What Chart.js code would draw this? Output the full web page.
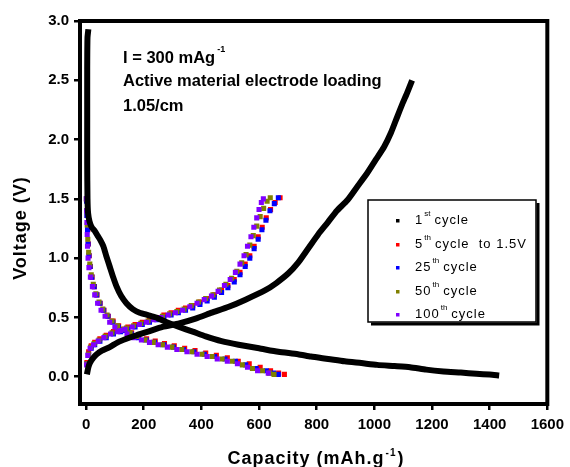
<!DOCTYPE html>
<html><head><meta charset="utf-8">
<script src="https://cdn.jsdelivr.net/npm/chart.js@4"></script>
<style>html,body{margin:0;padding:0;background:#fff}canvas{display:block}</style>
</head><body>
<canvas id="c" width="570" height="467"></canvas>
<script>
// ---- data (capacity mAh/g, voltage V) ----
const xTicks = [0, 200, 400, 600, 800, 1000, 1200, 1400, 1600];
const yTicks = [0, 0.5, 1.0, 1.5, 2.0, 2.5, 3.0];

const cycle1Discharge = [[8,2.93],[5,2.86],[4,2.6],[4,2.2],[4,1.8],[5,1.5],[7,1.38],[12,1.31],[20,1.26],[30,1.23],[40,1.19],[50,1.15],[60,1.10],[70,1.02],[82,0.93],[94,0.84],[106,0.76],[122,0.68],[140,0.62],[162,0.57],[186,0.54],[215,0.52],[243,0.50],[280,0.46],[323,0.42],[370,0.38],[415,0.34],[470,0.30],[529,0.27],[600,0.24],[667,0.21],[735,0.19],[780,0.17],[840,0.15],[897,0.13],[955,0.115],[1010,0.10],[1070,0.09],[1124,0.08],[1180,0.06],[1240,0.045],[1300,0.035],[1354,0.025],[1400,0.018],[1433,0.01]];
const cycle1Charge = [[3,0.02],[8,0.08],[14,0.12],[25,0.16],[37,0.19],[55,0.22],[82,0.25],[110,0.29],[140,0.32],[175,0.35],[215,0.38],[265,0.42],[323,0.45],[380,0.49],[436,0.54],[495,0.59],[553,0.65],[622,0.73],[660,0.79],[701,0.87],[735,0.96],[770,1.08],[805,1.20],[838,1.30],[870,1.40],[907,1.49],[940,1.60],[976,1.72],[1005,1.83],[1034,1.94],[1058,2.06],[1079,2.19],[1097,2.30],[1113,2.39],[1131,2.50]];

const cycle5Discharge = [[2,1.49],[4,1.36],[6,1.24],[8,1.12],[11,1.02],[15,0.93],[21,0.84],[29,0.76],[38,0.69],[49,0.62],[62,0.56],[77,0.51],[94,0.47],[113,0.43],[135,0.40],[158,0.37],[183,0.34],[210,0.32],[240,0.30],[272,0.28],[306,0.26],[342,0.24],[378,0.22],[415,0.20],[452,0.18],[490,0.16],[528,0.13],[566,0.11],[604,0.08],[640,0.05],[668,0.03],[688,0.02]];
const cycle5Charge = [[3,0.12],[9,0.21],[18,0.26],[30,0.29],[48,0.32],[70,0.35],[95,0.38],[120,0.40],[145,0.42],[170,0.44],[195,0.46],[220,0.48],[245,0.50],[270,0.52],[295,0.54],[320,0.56],[345,0.58],[370,0.60],[395,0.63],[420,0.66],[445,0.69],[470,0.73],[492,0.77],[514,0.82],[534,0.88],[552,0.95],[568,1.02],[583,1.10],[597,1.18],[611,1.26],[625,1.34],[640,1.41],[656,1.47],[673,1.51]];

const cycle25Discharge = [[2,1.48],[3,1.36],[5,1.24],[7,1.12],[10,1.02],[14,0.93],[20,0.84],[28,0.76],[37,0.69],[48,0.62],[61,0.56],[76,0.51],[93,0.46],[112,0.42],[134,0.39],[157,0.36],[182,0.33],[209,0.31],[238,0.29],[270,0.27],[303,0.25],[338,0.23],[374,0.21],[410,0.19],[446,0.17],[482,0.15],[518,0.13],[554,0.10],[590,0.07],[625,0.05],[650,0.03],[667,0.02]];
const cycle25Charge = [[3,0.11],[9,0.19],[18,0.24],[30,0.27],[48,0.30],[70,0.33],[95,0.36],[120,0.38],[145,0.40],[170,0.42],[195,0.44],[220,0.46],[245,0.48],[270,0.50],[295,0.52],[320,0.54],[345,0.56],[370,0.58],[395,0.61],[420,0.64],[445,0.67],[470,0.71],[492,0.75],[514,0.80],[534,0.86],[552,0.93],[568,1.00],[583,1.08],[597,1.16],[610,1.24],[624,1.32],[638,1.40],[653,1.46],[667,1.51]];

const cycle50Discharge = [[1,1.50],[2,1.40],[4,1.28],[6,1.16],[9,1.05],[13,0.95],[18,0.86],[25,0.78],[34,0.70],[45,0.63],[58,0.57],[73,0.52],[90,0.47],[109,0.43],[130,0.40],[153,0.37],[178,0.34],[205,0.31],[234,0.29],[265,0.27],[298,0.25],[332,0.23],[367,0.21],[402,0.19],[437,0.17],[472,0.15],[507,0.13],[542,0.10],[577,0.07],[612,0.05],[636,0.03],[652,0.02]];
const cycle50Charge = [[3,0.11],[8,0.19],[16,0.25],[28,0.28],[45,0.31],[66,0.34],[90,0.37],[115,0.39],[140,0.41],[165,0.43],[190,0.45],[215,0.47],[240,0.49],[265,0.51],[290,0.53],[315,0.55],[340,0.57],[365,0.60],[390,0.63],[415,0.66],[440,0.69],[463,0.73],[485,0.78],[505,0.83],[523,0.89],[540,0.96],[555,1.03],[568,1.11],[580,1.19],[592,1.27],[604,1.35],[616,1.42],[628,1.48],[639,1.51]];

const cycle100Discharge = [[1,1.50],[2,1.40],[3,1.30],[4,1.20],[5,1.10],[7,1.00],[10,0.92],[15,0.84],[22,0.76],[30,0.69],[40,0.62],[52,0.56],[66,0.51],[82,0.46],[100,0.42],[120,0.39],[142,0.36],[166,0.33],[192,0.31],[220,0.29],[250,0.27],[282,0.25],[315,0.23],[350,0.21],[385,0.19],[420,0.17],[455,0.15],[490,0.13],[525,0.11],[560,0.08],[595,0.05],[632,0.03]];
const cycle100Charge = [[2,0.10],[6,0.18],[14,0.24],[26,0.27],[42,0.30],[62,0.33],[85,0.36],[110,0.38],[135,0.40],[160,0.42],[185,0.44],[210,0.46],[235,0.48],[260,0.50],[285,0.52],[310,0.54],[335,0.56],[360,0.59],[385,0.62],[410,0.65],[435,0.68],[458,0.72],[480,0.77],[500,0.82],[518,0.88],[534,0.95],[548,1.02],[560,1.10],[572,1.18],[582,1.26],[592,1.34],[600,1.41],[608,1.47],[615,1.50]];

const legendMain = ['1', '5', '25', '50', '100'];
const legendSup = ['st', 'th', 'th', 'th', 'th'];
const legendTail = ['cycle', 'cycle  to 1.5V', 'cycle', 'cycle', 'cycle'];
const legendColors = ['#000000', '#ff0000', '#0000ff', '#808000', '#8000ff'];
const noteLines = ['I = 300 mAg', 'Active material electrode loading', '1.05/cm'];
const noteSup = '-1';
const xTitle = 'Capacity (mAh.g';
const xTitleSup = '-1';
const yTitle = 'Voltage (V)';

const toPts = a => a.map(p => ({x: p[0], y: p[1]}));
const FONT = '"Liberation Sans", Arial, sans-serif';

function scatterSet(dis, chg, color) {
  return {
    data: toPts(dis).concat(toPts(chg)),
    showLine: false,
    pointStyle: 'rect',
    pointRadius: 3.6,
    pointBorderWidth: 0,
    pointBackgroundColor: color,
    borderColor: color,
    backgroundColor: color
  };
}
function lineSet(d) {
  return {
    data: toPts(d), showLine: true, borderColor: '#000', borderWidth: 6,
    pointRadius: 0, tension: 0.2, fill: false, borderJoinStyle: 'round'
  };
}

const decor = {
  id: 'decor',
  beforeDatasetsDraw(chart) {
    const {ctx, chartArea: a} = chart;
    ctx.save();
    ctx.strokeStyle = '#000';
    ctx.lineWidth = 4;
    ctx.strokeRect(a.left, a.top, a.right - a.left, a.bottom - a.top);
    ctx.restore();
  },
  afterDraw(chart) {
    const {ctx} = chart;
    ctx.save();
    ctx.fillStyle = '#000';
    // annotation
    ctx.font = 'bold 16.5px ' + FONT;
    ctx.textBaseline = 'middle';
    ctx.textAlign = 'left';
    const ny = [58, 81, 106];
    noteLines.forEach((t, i) => ctx.fillText(t, 123, ny[i]));
    const w0 = ctx.measureText(noteLines[0]).width;
    ctx.font = 'bold 9px ' + FONT;
    ctx.fillText(noteSup, 123 + w0 + 2, 50);

    // legend box
    const L = 368, T = 200, R = 536, B = 322;
    ctx.lineWidth = 1.5;
    ctx.strokeRect(L, T, R - L, B - T);
    ctx.lineWidth = 3;
    ctx.beginPath();
    ctx.moveTo(L + 3, B + 2); ctx.lineTo(R + 2, B + 2); ctx.lineTo(R + 2, T + 3);
    ctx.stroke();
    const rows = [220, 244, 267, 291, 314];
    legendMain.forEach((m, i) => {
      ctx.fillStyle = legendColors[i];
      ctx.fillRect(396, rows[i] - 1, 3.5, 3.5);
      ctx.fillStyle = '#000';
      ctx.font = '13px ' + FONT;
      ctx.letterSpacing = '1px';
      ctx.textBaseline = 'middle';
      ctx.fillText(m, 415, rows[i]);
      const mw = ctx.measureText(m).width;
      ctx.font = '8px ' + FONT;
      ctx.letterSpacing = '0px';
      ctx.fillText(legendSup[i], 415 + mw + 1, rows[i] - 6);
      const sw = ctx.measureText(legendSup[i]).width;
      ctx.font = '13px ' + FONT;
      ctx.letterSpacing = '1px';
      ctx.fillText(legendTail[i], 415 + mw + sw + 5, rows[i]);
    });
    ctx.letterSpacing = '0px';

    // axis titles
    ctx.fillStyle = '#000';
    ctx.font = 'bold 18px ' + FONT;
    ctx.letterSpacing = '1px';
    const tw = ctx.measureText(xTitle).width;
    ctx.font = 'bold 10px ' + FONT;
    const sw2 = ctx.measureText(xTitleSup).width;
    ctx.font = 'bold 18px ' + FONT;
    const cw = ctx.measureText(')').width;
    const total = tw + sw2 + cw + 2;
    let x0 = 316 - total / 2;
    ctx.textAlign = 'left';
    ctx.textBaseline = 'middle';
    ctx.fillText(xTitle, x0, 459);
    ctx.font = 'bold 10px ' + FONT;
    ctx.fillText(xTitleSup, x0 + tw + 1, 453);
    ctx.font = 'bold 18px ' + FONT;
    ctx.fillText(')', x0 + tw + sw2 + 2, 459);

    ctx.translate(21, 228);
    ctx.rotate(-Math.PI / 2);
    ctx.textAlign = 'center';
    ctx.fillText(yTitle, 0, 0);
    ctx.restore();
  }
};

const tickFont = {family: FONT, size: 15, weight: 'bold'};
new Chart(document.getElementById('c'), {
  type: 'scatter',
  data: {
    datasets: [
      lineSet(cycle1Discharge),
      lineSet(cycle1Charge),
      scatterSet(cycle100Discharge, cycle100Charge, legendColors[4]),
      scatterSet(cycle50Discharge, cycle50Charge, legendColors[3]),
      scatterSet(cycle25Discharge, cycle25Charge, legendColors[2]),
      scatterSet(cycle5Discharge, cycle5Charge, legendColors[1])
    ]
  },
  options: {
    responsive: false,
    devicePixelRatio: 1,
    animation: false,
    layout: {padding: {left: 0, top: 21, right: 18, bottom: 0}},
    plugins: {legend: {display: false}, tooltip: {enabled: false}},
    scales: {
      x: {
        type: 'linear', min: -21, max: 1600,
        afterBuildTicks: s => { s.ticks = xTicks.map(v => ({value: v})); },
        afterFit: s => { s.height = 63; },
        ticks: {font: tickFont, color: '#000', padding: 6, maxRotation: 0, autoSkip: false, callback: v => String(v)},
        grid: {drawOnChartArea: false, drawTicks: true, tickLength: 6, color: '#000', lineWidth: 2.5},
        border: {display: false}
      },
      y: {
        type: 'linear', min: -0.23, max: 3.0,
        afterBuildTicks: s => { s.ticks = yTicks.map(v => ({value: v})); },
        afterFit: s => { s.width = 80; },
        ticks: {font: tickFont, color: '#000', padding: 5, autoSkip: false, callback: v => Number(v).toFixed(1)},
        grid: {drawOnChartArea: false, drawTicks: true, tickLength: 6, color: '#000', lineWidth: 2.5},
        border: {display: false}
      }
    }
  },
  plugins: [decor]
});
</script>
</body></html>
